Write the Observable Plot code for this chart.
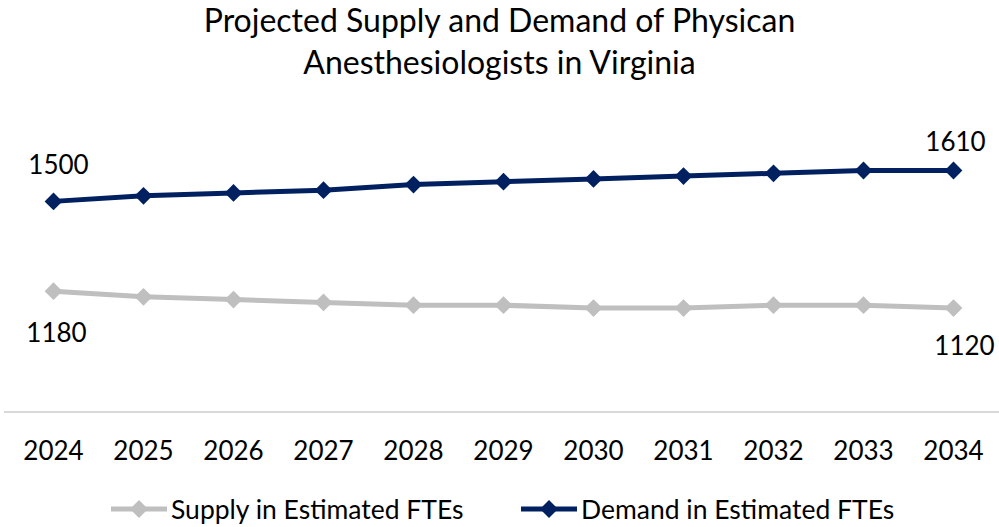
<!DOCTYPE html>
<html><head><meta charset="utf-8">
<script src="https://cdn.jsdelivr.net/npm/d3@7"></script>
<script src="https://cdn.jsdelivr.net/npm/@observablehq/plot@0.6"></script>
<style>
body{margin:0;background:#fff;font-family:Lato,sans-serif;color:#000;}
#wrap{position:relative;width:999px;height:527px;overflow:hidden;background:#fff;}
#title{position:absolute;left:0;top:-1px;width:999px;text-align:center;font-size:32px;line-height:42px;color:#000;}
#chart{position:absolute;left:0;top:100px;}
#legend{position:absolute;left:0;top:494px;width:999px;height:30px;font-size:26.5px;}
.item{position:absolute;top:0;height:30px;display:flex;align-items:center;white-space:nowrap;}
.item svg{margin-right:4px;}
</style></head>
<body>
<div id="wrap">
  <div id="title">Projected Supply and Demand of Physican<br>Anesthesiologists in Virginia</div>
  <div id="chart"></div>
  <div id="legend"></div>
</div>
<script>
const years = [2024, 2025, 2026, 2027, 2028, 2029, 2030, 2031, 2032, 2033, 2034];
const supply = [1180, 1160, 1150, 1140, 1130, 1130, 1120, 1120, 1130, 1130, 1120];
const demand = [1500, 1520, 1530, 1540, 1560, 1570, 1580, 1590, 1600, 1610, 1610];
const seriesNames = ["Supply in Estimated FTEs", "Demand in Estimated FTEs"];
const seriesColors = ["#bfbfbf", "#002060"];

const rows = [];
years.forEach((y, i) => rows.push({year: String(y), value: supply[i], series: seriesNames[0]}));
years.forEach((y, i) => rows.push({year: String(y), value: demand[i], series: seriesNames[1]}));

const sRows = rows.filter(d => d.series === seriesNames[0]);
const dRows = rows.filter(d => d.series === seriesNames[1]);

const chart = Plot.plot({
  width: 999,
  height: 370,
  marginTop: 30.7,
  marginBottom: 58.6,
  marginLeft: 7,
  marginRight: 0,
  x: {type: "point", domain: years.map(String), padding: 0.5},
  y: {domain: [750, 1750], axis: null},
  color: {domain: seriesNames, range: seriesColors},
  style: {fontFamily: "Lato, sans-serif", fontSize: "26px", color: "#000", background: "#fff"},
  marks: [
    Plot.ruleY([750], {stroke: "#d9d9d9", strokeWidth: 2, insetLeft: -3}),
    Plot.axisX({tickSize: 0, tickPadding: 30, fontSize: 26, label: null, fill: "#000"}),
    Plot.line(sRows, {x: "year", y: "value", stroke: "series", strokeWidth: 5}),
    Plot.dot(sRows, {x: "year", y: "value", fill: "series", symbol: "diamond2", r: 8}),
    Plot.line(dRows, {x: "year", y: "value", stroke: "series", strokeWidth: 5}),
    Plot.dot(dRows, {x: "year", y: "value", fill: "series", symbol: "diamond2", r: 8}),
    Plot.text([sRows[0]], {x: "year", y: "value", text: d => String(d.value), dx: 3, dy: 42, fontSize: 26, fill: "#000"}),
    Plot.text([sRows[sRows.length - 1]], {x: "year", y: "value", text: d => String(d.value), dx: 11, dy: 39, fontSize: 26, fill: "#000"}),
    Plot.text([dRows[0]], {x: "year", y: "value", text: d => String(d.value), dx: 5, dy: -36, fontSize: 26, fill: "#000"}),
    Plot.text([dRows[dRows.length - 1]], {x: "year", y: "value", text: d => String(d.value), dx: 2, dy: -28, fontSize: 26, fill: "#000"})
  ]
});
document.getElementById("chart").appendChild(chart);

// Legend
const legend = d3.select("#legend");
const lefts = [111, 521];
seriesNames.forEach((name, i) => {
  const item = legend.append("div").attr("class", "item").style("left", lefts[i] + "px");
  const sw = item.append("svg").attr("width", 56).attr("height", 20);
  sw.append("line").attr("x1", 0).attr("x2", 56).attr("y1", 10).attr("y2", 10)
    .attr("stroke", seriesColors[i]).attr("stroke-width", 5);
  sw.append("path").attr("d", "M28,1L37,10L28,19L19,10Z").attr("fill", seriesColors[i]);
  item.append("span").text(name);
});
</script>
</body></html>
